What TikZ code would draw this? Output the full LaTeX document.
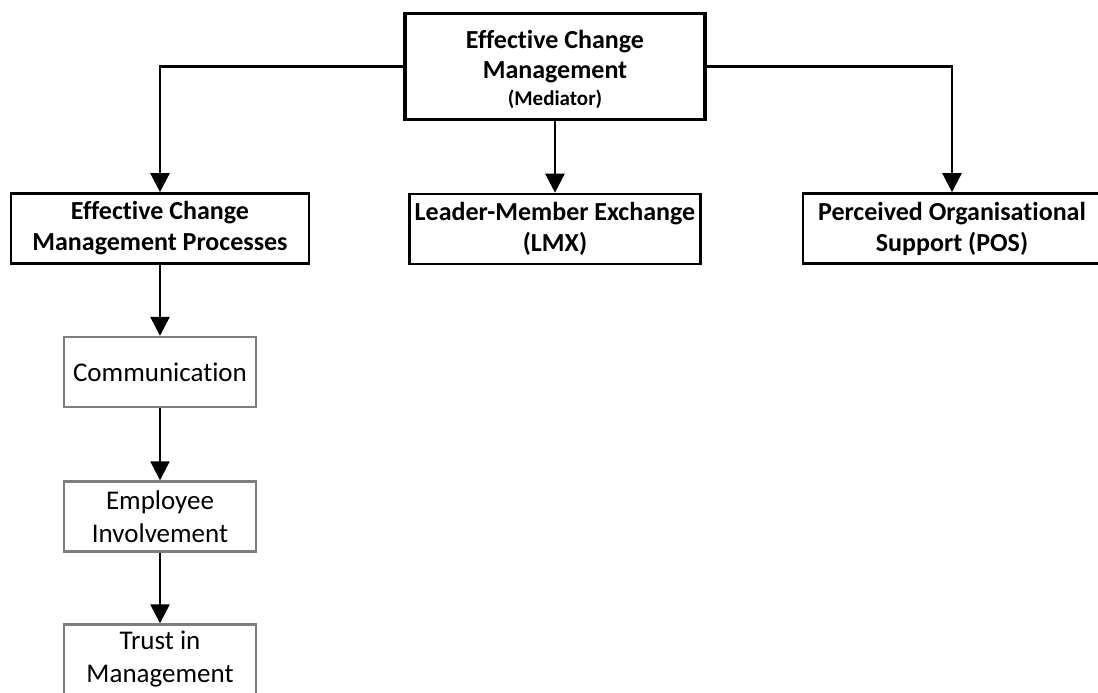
\documentclass[tikz,border=0pt]{standalone}
\usepackage{fontspec}
\setmainfont{Carlito}[Ligatures=NoCommon]
\usepackage{tikz}
\usetikzlibrary{arrows.meta,positioning,calc}
\definecolor{boxgray}{HTML}{7F7F7F}

\begin{document}
\begin{tikzpicture}[x=1pt,y=-1pt,
  every node/.style={align=center,inner sep=2pt},
  mainbox/.style={draw=black,fill=white,line width=3.6pt,minimum width=300pt,minimum height=106pt,font=\fontsize{26}{30}\selectfont\bfseries},
  factor/.style={draw=black,fill=white,line width=2.6pt,minimum width=298pt,minimum height=70pt,font=\fontsize{26}{31}\selectfont\bfseries},
  process/.style={draw=boxgray,fill=white,line width=2.4pt,minimum width=192pt,minimum height=70pt,font=\fontsize{27}{33}\selectfont},
  flow/.style={-{Triangle[length=19pt,width=19pt]},draw=black,line width=2.4pt}
]
  \useasboundingbox (0,0) rectangle (1098,693);
  \clip (0,0) rectangle (1098,693);
  \node[mainbox] (ecm) at (555,66.5) {\rule{0pt}{25pt}Effective Change\\Management\\[-3pt]{\fontsize{21}{24}\selectfont(Mediator)}};
  \node[factor] (ecmp) at (160,228.5) {Effective Change\\Management Processes};
  \node[factor,minimum width=291pt] (lmx) at (555,229) {Leader-Member Exchange\\(LMX)};
  \node[factor] (pos) at (952,228.5) {Perceived Organisational\\Support (POS)};
  \node[process] (comm) at (160,372) {Communication};
  \node[process] (emp) at (160,516.5) {Employee\\Involvement};
  \node[process] (trust) at (160,659.5) {Trust in\\Management};
  \draw[flow] (ecm.west) -| (ecmp.north);
  \draw[flow] (ecm.south) -- (lmx.north);
  \draw[flow] (ecm.east) -| (pos.north);
  \draw[flow] (ecmp.south) -- (comm.north);
  \draw[flow] (comm.south) -- (emp.north);
  \draw[flow] (emp.south) -- (trust.north);
\end{tikzpicture}
\end{document}
